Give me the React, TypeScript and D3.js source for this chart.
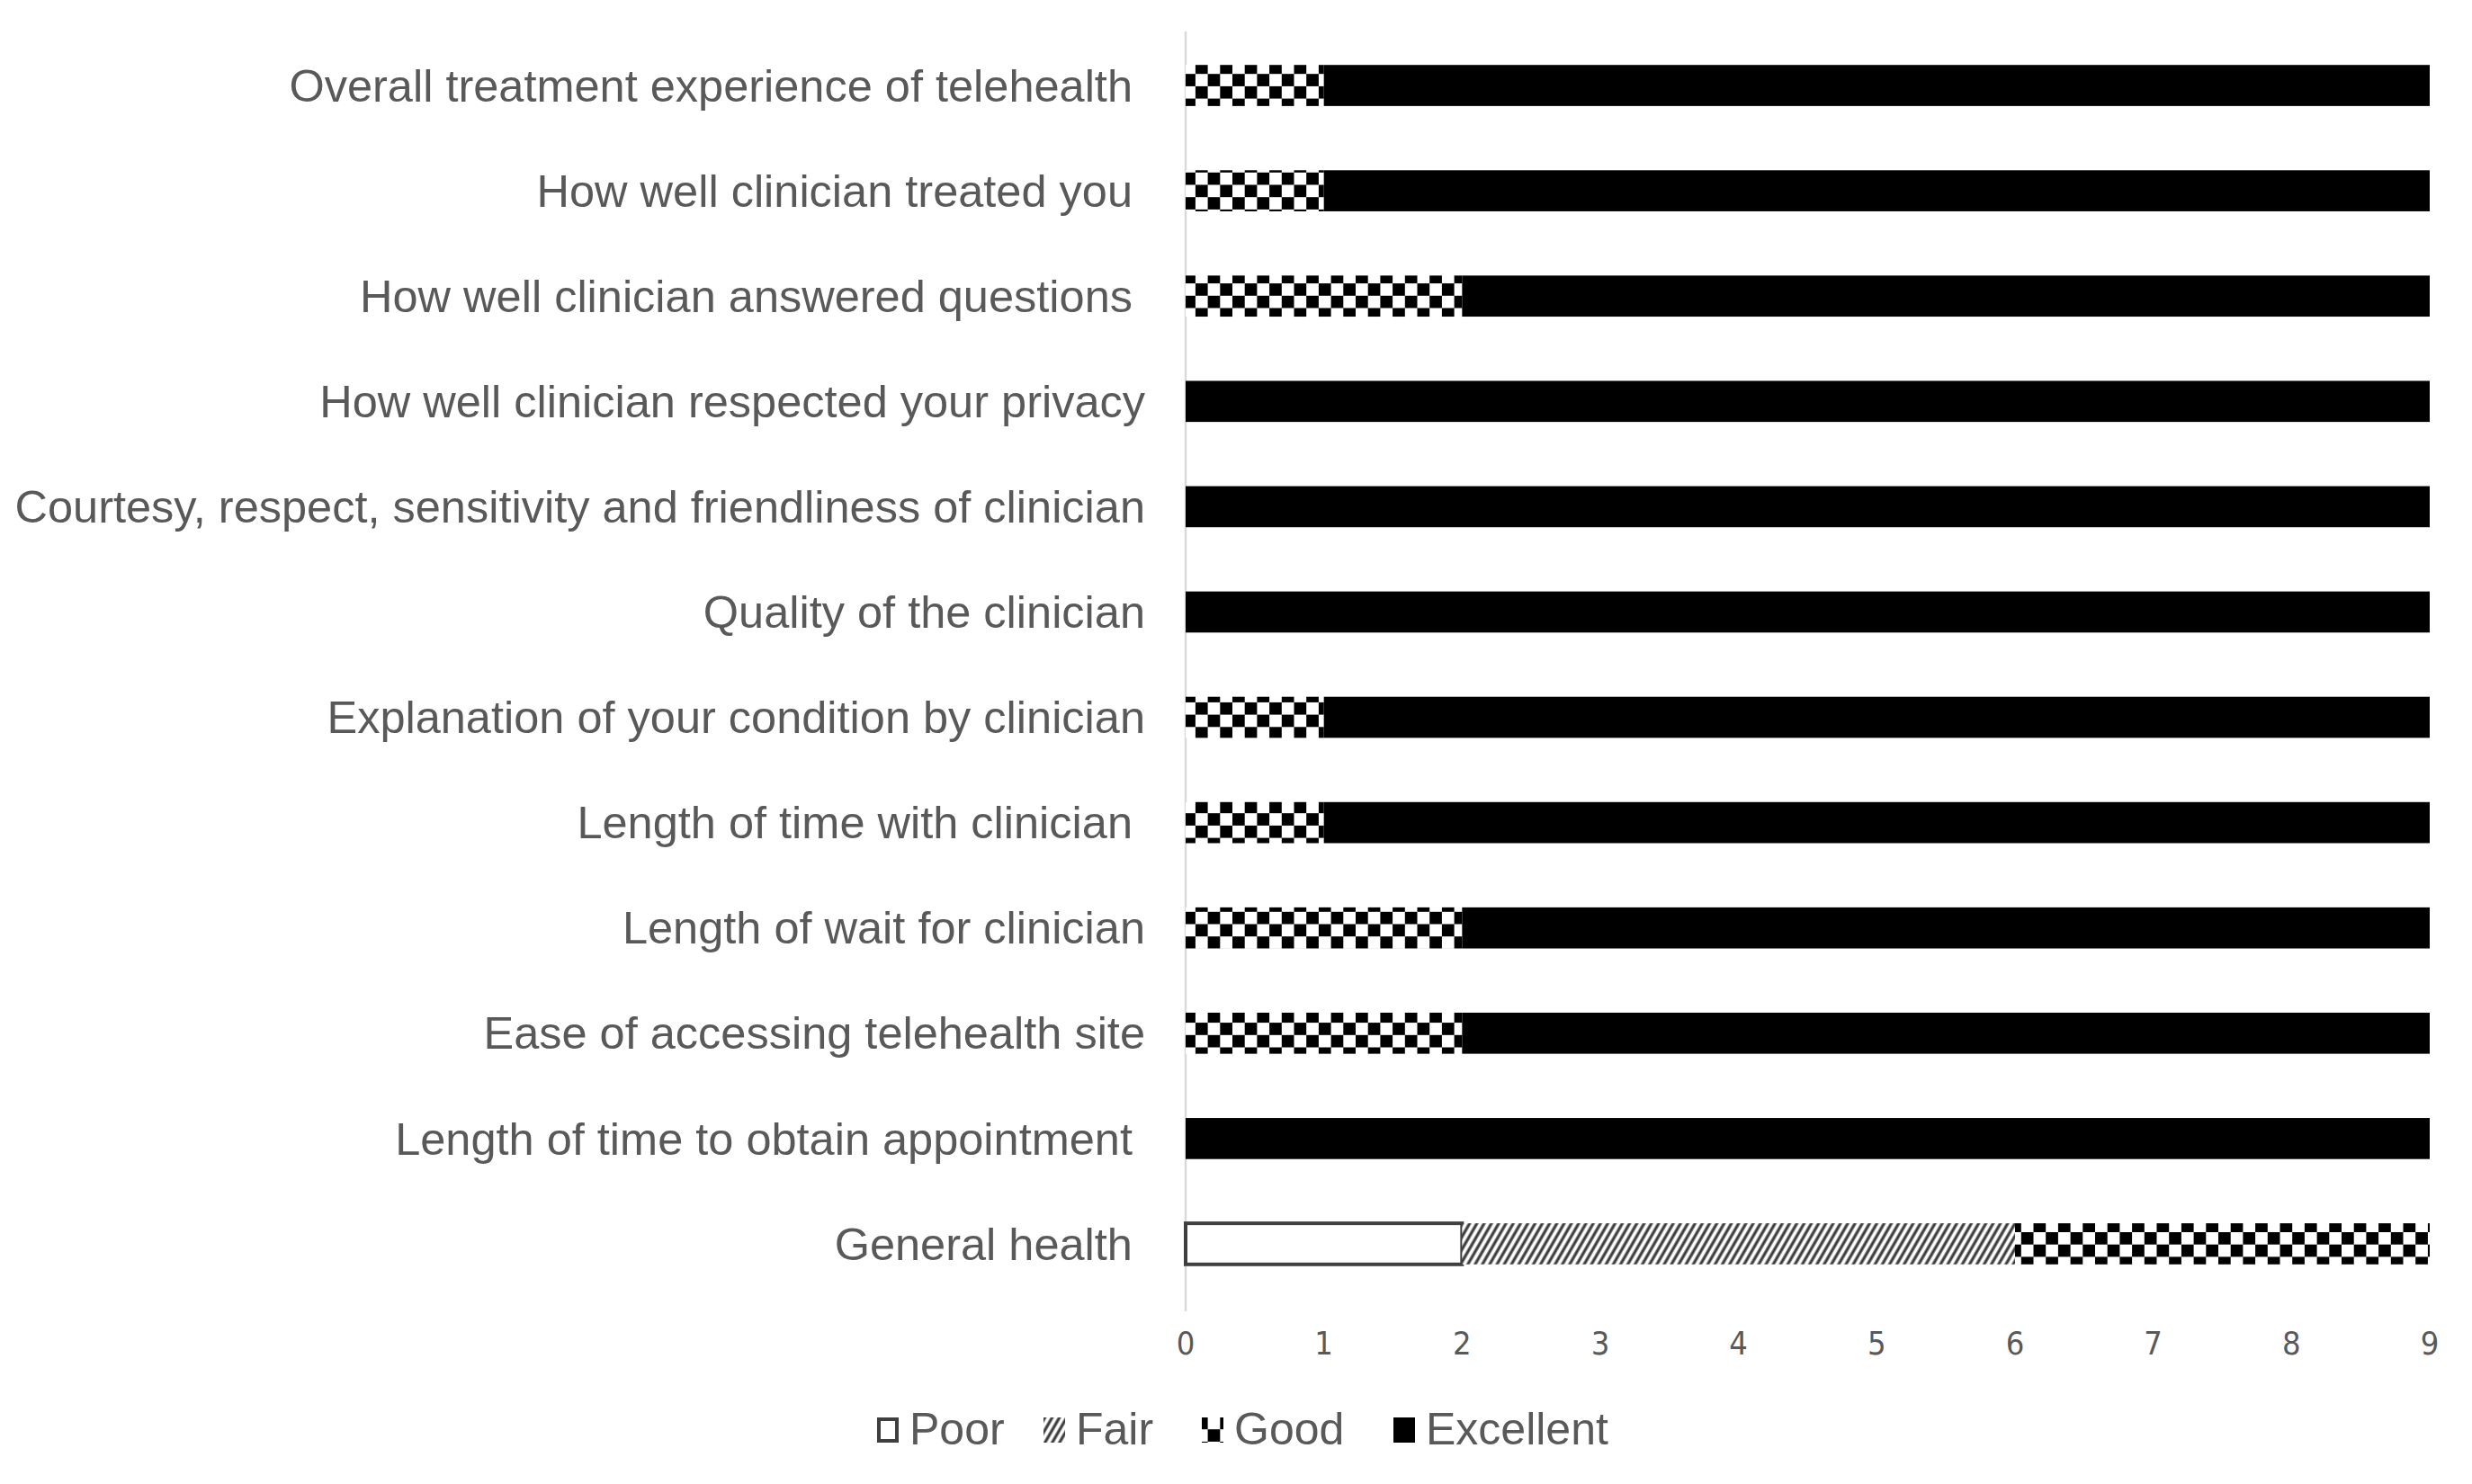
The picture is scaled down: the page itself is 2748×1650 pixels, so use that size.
import React, { useEffect } from "react";
import * as d3 from "d3";

// survey items, top to bottom (some labels carry a trailing space as in the source)
const categories = [
  "Overall treatment experience of telehealth ",
  "How well clinician treated you ",
  "How well clinician answered questions ",
  "How well clinician respected your privacy",
  "Courtesy, respect, sensitivity and friendliness of clinician",
  "Quality of the clinician",
  "Explanation of your condition by clinician",
  "Length of time with clinician ",
  "Length of wait for clinician",
  "Ease of accessing telehealth site",
  "Length of time to obtain appointment ",
  "General health ",
];

const seriesNames = ["Poor", "Fair", "Good", "Excellent"];

const poorValues = [0, 0, 0, 0, 0, 0, 0, 0, 0, 0, 0, 2];
const fairValues = [0, 0, 0, 0, 0, 0, 0, 0, 0, 0, 0, 4];
const goodValues = [1, 1, 2, 0, 0, 0, 1, 1, 2, 2, 0, 3];
const excellentValues = [8, 8, 7, 9, 9, 9, 8, 8, 7, 7, 9, 0];

const xTicks = [0, 1, 2, 3, 4, 5, 6, 7, 8, 9];

const fills: Record<string, string> = {
  Poor: "#ffffff",
  Fair: "url(#hatch)",
  Good: "url(#checker)",
  Excellent: "#000000",
};

const textColor = "#595959";
const labelFont = "'Liberation Sans', Arial, sans-serif";

function App() {
  useEffect(() => {
    document.body.style.margin = "0";
  }, []);

  const width = 2748;
  const height = 1650;

  const xScale = d3.scaleLinear().domain([0, 9]).range([1318, 2701]);
  const yScale = d3
    .scaleBand<string>()
    .domain(categories)
    .range([36.5, 1441.5])
    .paddingInner(0.61)
    .paddingOuter(0.305);

  const table = categories.map((c, i) => ({
    category: c,
    Poor: poorValues[i],
    Fair: fairValues[i],
    Good: goodValues[i],
    Excellent: excellentValues[i],
  }));
  const stacked = d3.stack<any>().keys(seriesNames)(table);

  const legendItems = [
    { name: "Poor", x: 975 },
    { name: "Fair", x: 1160 },
    { name: "Good", x: 1336 },
    { name: "Excellent", x: 1549 },
  ];
  const legendBaseline = 1606;

  return (
    <svg width={width} height={height} style={{ display: "block", background: "#fff" }}>
      <defs>
        <pattern id="checker" patternUnits="userSpaceOnUse" width={27.4} height={27.4}>
          <rect width={27.4} height={27.4} fill="#fff" />
          <rect x={0} y={0} width={13.7} height={13.7} fill="#000" />
          <rect x={13.7} y={13.7} width={13.7} height={13.7} fill="#000" />
        </pattern>
        <pattern
          id="hatch"
          patternUnits="userSpaceOnUse"
          width={7}
          height={14}
          patternTransform="rotate(30)"
        >
          <rect width={7} height={14} fill="#fff" />
          <line x1={2} y1={0} x2={2} y2={14} stroke="#3a3a3a" strokeWidth={3.2} />
        </pattern>
      </defs>

      {/* vertical axis line */}
      <line x1={xScale(0)} x2={xScale(0)} y1={35} y2={1458} stroke="#d9d9d9" strokeWidth={2.5} />

      {/* bars */}
      {stacked.map((layer) => (
        <g key={layer.key}>
          {layer.map((d, i) => {
            const w = xScale(d[1]) - xScale(d[0]);
            if (w <= 0) return null;
            const y = yScale(categories[i]) as number;
            return (
              <rect
                key={i}
                x={xScale(d[0])}
                y={y}
                width={w}
                height={yScale.bandwidth()}
                fill={fills[layer.key]}
                stroke={layer.key === "Poor" ? "#3f3f3f" : "none"}
                strokeWidth={layer.key === "Poor" ? 4 : 0}
              />
            );
          })}
        </g>
      ))}

      {/* category labels */}
      {categories.map((c) => (
        <text
          key={c}
          x={1273}
          y={(yScale(c) as number) + yScale.bandwidth() / 2}
          dy="0.35em"
          textAnchor="end"
          fontFamily={labelFont}
          fontSize={50.5}
          fill={textColor}
          style={{ whiteSpace: "pre" }}
        >
          {c}
        </text>
      ))}

      {/* x tick labels */}
      {xTicks.map((t) => (
        <text
          key={t}
          x={xScale(t)}
          y={1493}
          dy="0.35em"
          textAnchor="middle"
          fontFamily="'Liberation Sans Narrow', 'DejaVu Sans Condensed', sans-serif"
          fontSize={36}
          fill={textColor}
        >
          {t}
        </text>
      ))}

      {/* legend */}
      {legendItems.map((l) => (
        <g key={l.name}>
          <rect
            x={l.x + (l.name === "Poor" ? 2 : 0)}
            y={legendBaseline - 30 + (l.name === "Poor" ? 2 : 0)}
            width={l.name === "Poor" ? 20 : 24}
            height={l.name === "Poor" ? 24 : 28}
            fill={fills[l.name]}
            stroke={l.name === "Poor" ? "#3f3f3f" : "none"}
            strokeWidth={l.name === "Poor" ? 4 : 0}
          />
          <text
            x={l.x + 36}
            y={legendBaseline}
            fontFamily={labelFont}
            fontSize={50}
            fill={textColor}
          >
            {l.name}
          </text>
        </g>
      ))}
    </svg>
  );
}

export default App;
